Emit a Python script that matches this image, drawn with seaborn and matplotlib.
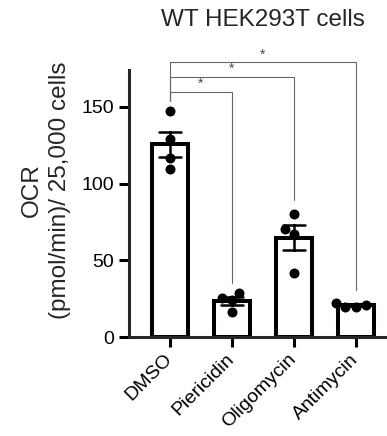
import matplotlib
matplotlib.use("Agg")
import matplotlib.pyplot as plt
import seaborn as sns
import pandas as pd
import numpy as np

# data
groups = ["DMSO", "Piericidin", "Oligomycin", "Antimycin"]
dmso = [147.0, 129.0, 116.7, 109.5]
piericidin = [28.5, 24.0, 25.4, 16.5]
oligomycin = [80.2, 70.4, 66.9, 41.5]
antimycin = [19.8, 22.4, 19.6, 20.9]

# significance brackets: (group a, group b), bracket level, right drop, left drop
bracket_pairs = [(0, 1), (0, 2), (0, 3)]
bracket_levels = [159.8, 169.6, 179.0]
bracket_right_ends = [35.0, 89.0, 30.6]
bracket_left_end = 154.0

df = pd.DataFrame({
    "group": np.repeat(groups, 4),
    "ocr": dmso + piericidin + oligomycin + antimycin,
})

sns.set_style("ticks")
plt.rcParams["font.family"] = ["Liberation Sans", "DejaVu Sans"]

fig = plt.figure(figsize=(3.87, 4.36), dpi=100)
ax = fig.add_axes([0.333, 0.227, 0.667, 0.6124])

sns.barplot(data=df, x="group", y="ocr", order=groups, ax=ax,
            color="white", edgecolor="black", linewidth=2.9, width=0.58,
            errorbar="se", capsize=0.36,
            err_kws={"color": "black", "linewidth": 1.8})
sns.swarmplot(data=df, x="group", y="ocr", order=groups, ax=ax,
              color="black", size=7.2, zorder=5)

ax.set_ylim(0, 174)
ax.set_xlim(-0.66, 3.5)
ax.set_yticks([0, 50, 100, 150])
sns.despine(ax=ax)
for side in ["left", "bottom"]:
    ax.spines[side].set_linewidth(2.2)
ax.tick_params(axis="both", width=2.2, length=7, labelsize=14, colors="black")
ax.set_xlabel("")
ax.set_ylabel("OCR\n(pmol/min)/ 25,000 cells", fontsize=17.5, linespacing=1.35)
ax.yaxis.set_label_coords(-0.225, 0.55)
plt.setp(ax.get_xticklabels(), rotation=45, ha="right", va="center",
         rotation_mode="anchor")
for lbl in ax.get_xticklabels():
    lbl.set_y(-0.02)

# brackets
for (a, b), lvl, rend in zip(bracket_pairs, bracket_levels, bracket_right_ends):
    ax.plot([a, a, b, b], [bracket_left_end, lvl, lvl, rend],
            color="0.4", linewidth=0.8, clip_on=False, zorder=1)
    ax.text((a + b) / 2, lvl + 0.5, "*", ha="center", va="bottom",
            fontsize=10, color="0.3")

fig.text(0.68, 0.955, "WT HEK293T cells", ha="center", va="center",
         fontsize=17.5)

fig.savefig("out.png", dpi=100)
